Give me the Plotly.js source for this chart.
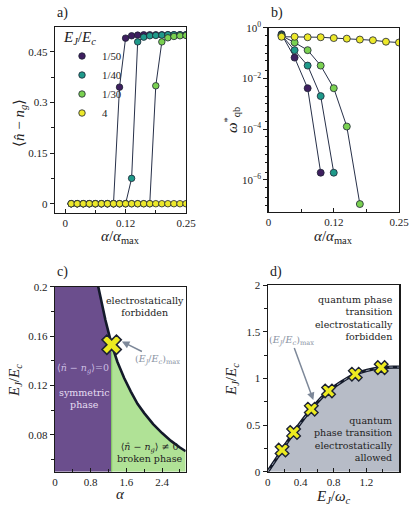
<!DOCTYPE html>
<html>
<head>
<meta charset="utf-8">
<script src="https://cdn.plot.ly/plotly-3.0.1.min.js"></script>
<style>
  html, body { margin: 0; padding: 0; background: #fff; }
  #chart { width: 415px; height: 514px; }
</style>
</head>
<body>
<div id="chart"></div>
<script>
// a) order parameter vs alpha/alpha_max
const alphaA = [0.0125, 0.025, 0.0375, 0.05, 0.0625, 0.075, 0.0875, 0.1, 0.1125, 0.125,
                0.1375, 0.15, 0.1625, 0.175, 0.1875, 0.2, 0.2125, 0.225, 0.2375, 0.25];
const nA_50 = [0, 0, 0, 0, 0, 0, 0, 0, 0.345, 0.49, 0.497, 0.499, 0.5, 0.5, 0.5, 0.5, 0.5, 0.5, 0.5, 0.5];
const nA_40 = [0, 0, 0, 0, 0, 0, 0, 0, 0, 0, 0.075, 0.479, 0.493, 0.497, 0.498, 0.499, 0.5, 0.5, 0.5, 0.5];
const nA_30 = [0, 0, 0, 0, 0, 0, 0, 0, 0, 0, 0, 0, 0, 0, 0.349, 0.479, 0.491, 0.495, 0.497, 0.498];
const nA_4  = [0, 0, 0, 0, 0, 0, 0, 0, 0, 0, 0, 0, 0, 0, 0, 0, 0, 0, 0, 0];

// b) qubit frequency (log) vs alpha/alpha_max
const alphaB = [0.025, 0.05, 0.075, 0.1, 0.125, 0.15, 0.175, 0.2, 0.225, 0.25];
const wB_50 = [0.55, 0.066, 0.0041, 1.9e-6];
const wB_40 = [0.51, 0.13, 0.032, 0.002, 1.9e-6];
const wB_30 = [0.48, 0.26, 0.13, 0.032, 0.0041, 1.26e-4, 1.1e-7];
const wB_4  = [0.44, 0.44, 0.42, 0.42, 0.39, 0.37, 0.34, 0.32, 0.28, 0.26];

const seriesNames = ['1/50', '1/40', '1/30', '4'];
const seriesColors = ['#3e1f5f', '#1f9a8a', '#7ad151', '#ece82a'];

// c) phase diagram E_J/E_c vs alpha
const alphaC = [0.97, 1.05, 1.13, 1.2, 1.27, 1.4, 1.55, 1.7, 1.85, 2.0, 2.2, 2.4, 2.6, 2.8, 2.93];
const ejBound = [0.2, 0.186, 0.173, 0.163, 0.153, 0.139, 0.126, 0.115, 0.105, 0.0975, 0.0886, 0.0813, 0.075, 0.0696, 0.0666];
const alphaCrit = 1.27;
const ejMaxC = 0.153;

// d) max E_J/E_c vs E_J/omega_c
const ejwc = [0.175, 0.315, 0.53, 0.74, 1.065, 1.38];
const ejecMax = [0.232, 0.42, 0.67, 0.865, 1.045, 1.115];
const curveX = [0, 0.175, 0.315, 0.53, 0.74, 1.065, 1.38, 1.6];
const curveY = [0, 0.232, 0.42, 0.67, 0.865, 1.045, 1.115, 1.12];

const lineCol = '#273049';
const edgeCol = '#1d2233';
const serif = 'Liberation Serif';
const noteSerif = 'DejaVu Serif';

const traces = [];

// panel a
const nA = [nA_50, nA_40, nA_30, nA_4];
nA.forEach((ys, i) => {
  traces.push({
    x: alphaA, y: ys, xaxis: 'x', yaxis: 'y', mode: 'lines',
    line: {color: lineCol, width: 1}, showlegend: false, hoverinfo: 'skip'
  });
  traces.push({
    x: alphaA, y: ys, xaxis: 'x', yaxis: 'y', mode: 'markers', name: seriesNames[i],
    marker: {color: seriesColors[i], size: 6.5, line: {color: edgeCol, width: 0.8}}
  });
});

// panel b
const wB = [wB_50, wB_40, wB_30, wB_4];
wB.forEach((ys, i) => {
  traces.push({
    x: alphaB.slice(0, ys.length), y: ys, xaxis: 'x2', yaxis: 'y2', mode: 'lines+markers',
    line: {color: lineCol, width: 1}, showlegend: false,
    marker: {color: seriesColors[i], size: 7, line: {color: edgeCol, width: 0.8}}
  });
});

// panel c fills + boundary
const iCrit = alphaC.indexOf(alphaCrit);
traces.push({
  x: [0, 0].concat(alphaC.slice(0, iCrit + 1), [alphaCrit]),
  y: [0.05, 0.2].concat(ejBound.slice(0, iCrit + 1), [0.05]),
  xaxis: 'x3', yaxis: 'y3', mode: 'lines', fill: 'toself',
  fillcolor: '#6b4e8d', line: {width: 0}, showlegend: false, hoverinfo: 'skip'
});
traces.push({
  x: [alphaCrit].concat(alphaC.slice(iCrit), [alphaC[alphaC.length - 1]]),
  y: [0.05].concat(ejBound.slice(iCrit), [0.05]),
  xaxis: 'x3', yaxis: 'y3', mode: 'lines', fill: 'toself',
  fillcolor: '#b0e296', line: {width: 0}, showlegend: false, hoverinfo: 'skip'
});
traces.push({
  x: [alphaCrit, alphaCrit], y: [0.05, ejMaxC], xaxis: 'x3', yaxis: 'y3', mode: 'lines',
  line: {color: '#86c866', width: 1.2}, showlegend: false, hoverinfo: 'skip'
});
traces.push({
  x: alphaC, y: ejBound, xaxis: 'x3', yaxis: 'y3', mode: 'lines',
  line: {color: '#141a2a', width: 2.6}, showlegend: false
});
traces.push({
  x: [alphaCrit], y: [ejMaxC], xaxis: 'x3', yaxis: 'y3', mode: 'markers',
  marker: {symbol: 'x', size: 17, color: '#ecea20', line: {color: '#1d2233', width: 1.6}},
  showlegend: false
});

// panel d
traces.push({
  x: curveX, y: curveY, xaxis: 'x4', yaxis: 'y4', mode: 'lines', fill: 'tozeroy',
  fillcolor: '#b7bcc7', line: {color: '#141a2a', width: 3.2, shape: 'spline', smoothing: 0.8},
  showlegend: false
});
traces.push({
  x: curveX, y: curveY, xaxis: 'x4', yaxis: 'y4', mode: 'lines',
  line: {color: '#8f98ab', width: 1, dash: '4px,4px', shape: 'spline', smoothing: 0.8},
  showlegend: false, hoverinfo: 'skip'
});
traces.push({
  x: ejwc, y: ejecMax, xaxis: 'x4', yaxis: 'y4', mode: 'markers',
  marker: {symbol: 'x', size: 12, color: '#ecea20', line: {color: '#1d2233', width: 1.4}},
  showlegend: false
});

// axes
const W = 415, H = 514;
const dx = (a, b) => [a / W, b / W];
const dy = (top, bottom) => [1 - bottom / H, 1 - top / H];
const tickFont = {family: serif, size: 11, color: '#222'};
const titleFont = {family: serif, size: 15, color: '#222'};

function axis(domain, anchor, opts) {
  return Object.assign({
    domain: domain, anchor: anchor, showline: true, mirror: true,
    linecolor: '#1a1a1a', linewidth: 1.2, showgrid: false, zeroline: false,
    tickfont: tickFont, ticklen: 4, tickwidth: 1, tickcolor: '#1a1a1a',
    fixedrange: true, tickmode: 'array'
  }, opts);
}

const xTicksAlpha = {tickvals: [0, 0.125, 0.25], ticktext: ['0', '0.12', '0.25']};

const layout = {
  width: W, height: H,
  margin: {l: 0, r: 0, t: 0, b: 0},
  paper_bgcolor: '#fff', plot_bgcolor: 'rgba(0,0,0,0)',
  font: {family: serif, color: '#222'},
  showlegend: true,
  legend: {
    x: 62 / W, y: 1 - 22 / H, xanchor: 'left', yanchor: 'top',
    bgcolor: 'rgba(0,0,0,0)', font: {family: serif, size: 10.8, color: '#222'},
    title: {text: '<i>E<sub>J</sub></i>/<i>E<sub>c</sub></i>', font: {family: serif, size: 15, color: '#222'}},
    itemwidth: 30, tracegroupgap: 0
  },
  xaxis: axis(dx(55, 186), 'y', Object.assign({
    range: [-0.021, 0.25], ticks: 'inside',
    minor: {tickvals: [0.0625, 0.1875], ticks: 'inside', ticklen: 2.5, tickcolor: '#1a1a1a'}
  }, xTicksAlpha)),
  yaxis: axis(dy(27, 212.7), 'x', {
    range: [-0.0266, 0.523], ticks: 'outside',
    tickvals: [0, 0.15, 0.3, 0.45], ticktext: ['0', '0.15', '0.3', '0.45'],
    minor: {tickvals: [0.075, 0.225, 0.375], ticks: 'outside', ticklen: 2.5, tickcolor: '#1a1a1a'}
  }),
  xaxis2: axis(dx(268.5, 399), 'y2', Object.assign({
    range: [0, 0.25], ticks: 'inside',
    minor: {tickvals: [0.0625, 0.1875], ticks: 'inside', ticklen: 2.5, tickcolor: '#1a1a1a'}
  }, xTicksAlpha)),
  yaxis2: axis(dy(27.7, 211.7), 'x2', {
    type: 'log', range: [-7.26, 0], ticks: 'outside',
    tickvals: [1, 0.01, 1e-4, 1e-6],
    ticktext: ['10<sup>0</sup>', '10<sup>−2</sup>', '10<sup>−4</sup>', '10<sup>−6</sup>'],
    minor: {tickmode: 'auto', dtick: 'D1', ticks: 'outside', ticklen: 2, tickcolor: '#1a1a1a'}
  }),
  xaxis3: axis(dx(55, 185.7), 'y3', {
    range: [0, 2.93], ticks: 'inside',
    tickvals: [0, 0.8, 1.6, 2.4], ticktext: ['0', '0.8', '1.6', '2.4'],
    minor: {tickvals: [0.4, 1.2, 2.0, 2.8], ticks: 'inside', ticklen: 2.5, tickcolor: '#1a1a1a'}
  }),
  yaxis3: axis(dy(286.7, 471.7), 'x3', {
    range: [0.05, 0.2], ticks: 'outside',
    tickvals: [0.08, 0.12, 0.16, 0.2], ticktext: ['0.08', '0.12', '0.16', '0.2'],
    minor: {tickvals: [0.06, 0.1, 0.14, 0.18], ticks: 'outside', ticklen: 2.5, tickcolor: '#1a1a1a'}
  }),
  xaxis4: axis(dx(267.7, 399.3), 'y4', {
    range: [0, 1.6], ticks: 'inside',
    tickvals: [0, 0.4, 0.8, 1.2], ticktext: ['0', '0.4', '0.8', '1.2'],
    minor: {tickvals: [0.2, 0.6, 1.0, 1.4], ticks: 'inside', ticklen: 2.5, tickcolor: '#1a1a1a'}
  }),
  yaxis4: axis(dy(285, 471.7), 'x4', {
    range: [0, 2], ticks: 'outside',
    tickvals: [0, 0.5, 1, 1.5, 2], ticktext: ['0', '0.5', '1', '1.5', '2'],
    minor: {tickvals: [0.25, 0.75, 1.25, 1.75], ticks: 'outside', ticklen: 2.5, tickcolor: '#1a1a1a'}
  }),
  annotations: []
};

const paperText = (text, px, py, opts) => Object.assign({
  text: text, xref: 'paper', yref: 'paper', x: px / W, y: 1 - py / H,
  xanchor: 'center', yanchor: 'middle', showarrow: false, font: titleFont
}, opts);

// panel letters
const letterFont = {family: serif, size: 14, color: '#222'};
layout.annotations.push(
  paperText('a)', 55, 13, {xanchor: 'left', font: letterFont}),
  paperText('b)', 268.5, 13, {xanchor: 'left', font: letterFont}),
  paperText('c)', 55, 272, {xanchor: 'left', font: letterFont}),
  paperText('d)', 267.7, 272, {xanchor: 'left', font: letterFont})
);

// axis titles
const alphaTitle = '<i>α</i>/<i>α</i><sub>max</sub>';
const ejecTitle = '<i>E<sub>J</sub></i>/<i>E<sub>c</sub></i>';
layout.annotations.push(
  paperText(alphaTitle, 120, 237),
  paperText(alphaTitle, 333, 237),
  paperText('⟨<i>n\u0302</i> − <i>n<sub>g</sub></i>⟩', 20, 123, {textangle: -90}),
  paperText('<i>ω</i><sup>*</sup><sub>qb</sub>', 232, 120, {textangle: -90}),
  paperText('<i>α</i>', 120, 494),
  paperText(ejecTitle, 15, 381, {textangle: -90}),
  paperText('<i>E<sub>J</sub></i>/<i>ω<sub>c</sub></i>', 333, 497),
  paperText(ejecTitle, 232, 380, {textangle: -90})
);

const noteFont = {family: noteSerif, size: 9.5, color: '#222'};
const maxLabel = '(<i>E<sub>J</sub></i>/<i>E<sub>c</sub></i>)<sub>max</sub>';
const arrowStyle = {showarrow: true, arrowhead: 2, arrowsize: 1, arrowwidth: 1.5, arrowcolor: '#7d8899',
                    font: {family: noteSerif, size: 9.5, color: '#8a93a3'}};
layout.annotations.push(
  {xref: 'x3', yref: 'y3', x: 2.02, y: 0.184, text: 'electrostatically<br>forbidden',
   showarrow: false, font: noteFont},
  {xref: 'x3', yref: 'y3', x: 0.63, y: 0.1336, text: '⟨<i>n\u0302</i> − <i>n<sub>g</sub></i>⟩=0',
   showarrow: false, font: {family: noteSerif, size: 9.5, color: '#cdbfe3'}},
  {xref: 'x3', yref: 'y3', x: 0.67, y: 0.109, text: 'symmetric<br>phase',
   showarrow: false, font: {family: noteSerif, size: 9.5, color: '#e6def2'}},
  {xref: 'x3', yref: 'y3', x: 2.12, y: 0.0655, text: '⟨<i>n\u0302</i> − <i>n<sub>g</sub></i>⟩ ≠ 0<br>broken phase',
   showarrow: false, font: noteFont},
  Object.assign({xref: 'x3', yref: 'y3', x: 1.5, y: 0.1556, ax: 36, ay: 18, text: maxLabel}, arrowStyle),
  {xref: 'x4', yref: 'y4', x: 1.55, y: 1.646, xanchor: 'right', align: 'right',
   text: 'quantum phase<br>transition<br>electrostatically<br>forbidden', showarrow: false, font: noteFont},
  {xref: 'x4', yref: 'y4', x: 1.55, y: 0.345, xanchor: 'right', align: 'right',
   text: 'quantum<br>phase transition<br>electrostatically<br>allowed', showarrow: false, font: noteFont},
  Object.assign({xref: 'x4', yref: 'y4', x: 0.555, y: 0.768, ax: -22, ay: -60, text: maxLabel}, arrowStyle)
);

Plotly.newPlot('chart', traces, layout, {staticPlot: true});
</script>
</body>
</html>
